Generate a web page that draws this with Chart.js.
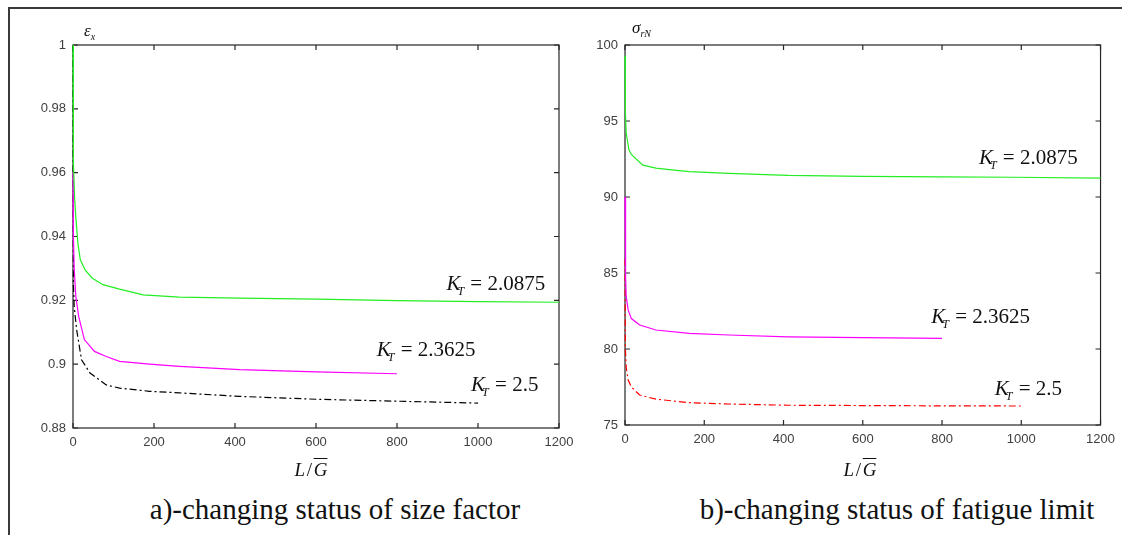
<!DOCTYPE html>
<html>
<head>
<meta charset="utf-8">
<script src="https://cdn.jsdelivr.net/npm/chart.js@4.4.1/dist/chart.umd.min.js"></script>
<style>
  body { margin: 0; background: #fff; width: 1122px; height: 535px; overflow: hidden; position: relative; }
  .frame { position: absolute; left: 8px; top: 7px; width: 1120px; height: 540px; border-top: 2px solid #3a3a3a; border-left: 2px solid #3a3a3a; }
  .box { position: absolute; top: 0; }
  .serif { position: absolute; font-family: "Liberation Serif", "Times New Roman", serif; color: #111; white-space: nowrap; line-height: 1; }
  .ylab { font-style: italic; font-size: 17px; }
  .ylab sub { font-size: 10px; }
  .xlab { font-size: 19px; transform: translateX(-50%); }
  .cap { font-size: 29px; transform: translateX(-50%); }
</style>
</head>
<body>
<div class="frame"></div>
<div class="box" style="left:0;width:600px;height:460px"><canvas id="chartA" width="600" height="460"></canvas></div>
<div class="box" style="left:560px;width:562px;height:460px"><canvas id="chartB" width="562" height="460"></canvas></div>

<div class="serif ylab" style="left:84px;top:22px">ε<sub>x</sub></div>
<div class="serif ylab" style="left:632px;top:19px">σ<sub>rN</sub></div>
<div class="serif xlab" style="left:311px;top:460px"><i>L</i>&#8202;/&#8202;<i style="text-decoration:overline">G</i></div>
<div class="serif xlab" style="left:860px;top:460px"><i>L</i>&#8202;/&#8202;<i style="text-decoration:overline">G</i></div>
<div class="serif cap" style="left:335px;top:495px">a)-changing status of size factor</div>
<div class="serif cap" style="left:897px;top:495px">b)-changing status of fatigue limit</div>

<script>
// tick labels
const xTicks = [0, 200, 400, 600, 800, 1000, 1200];
const yTicksA = [0.88, 0.9, 0.92, 0.94, 0.96, 0.98, 1];
const yTicksB = [75, 80, 85, 90, 95, 100];

// a) size factor, L/G on x
const sizeL_20875 = [0, 1, 4, 7, 12, 18, 30, 47, 74, 115, 173, 263, 412, 600, 800, 1000, 1200];
const size_20875  = [1.0, 0.963, 0.952, 0.946, 0.938, 0.9327, 0.9295, 0.927, 0.9249, 0.9235, 0.9217, 0.921, 0.9207, 0.9204, 0.9199, 0.9196, 0.9194];
const sizeL_23625 = [0, 1, 3, 7, 14, 28, 53, 82, 115, 189, 263, 412, 600, 800];
const size_23625  = [0.96, 0.94, 0.93, 0.9212, 0.915, 0.9077, 0.904, 0.9024, 0.9009, 0.9, 0.8993, 0.8983, 0.8976, 0.897];
const sizeL_25    = [0, 1, 3, 9, 21, 42, 82, 115, 189, 263, 412, 600, 800, 1000];
const size_25     = [1.0, 0.925, 0.918, 0.9108, 0.9014, 0.8972, 0.8935, 0.8925, 0.8915, 0.891, 0.8899, 0.889, 0.8884, 0.8878];

// b) fatigue limit
const limL_20875 = [0, 1, 3, 10, 16, 45, 78, 112, 162, 262, 412, 600, 800, 980, 1200];
const lim_20875  = [99.3, 95.6, 94.2, 93.1, 92.8, 92.1, 91.9, 91.8, 91.67, 91.56, 91.42, 91.36, 91.32, 91.3, 91.24];
const limL_23625 = [0, 1, 2, 3, 8, 16, 37, 78, 162, 262, 412, 600, 800];
const lim_23625  = [90, 85.5, 84.76, 83.44, 82.57, 82.0, 81.58, 81.25, 81.03, 80.92, 80.8, 80.75, 80.7];
const limL_25    = [0, 1, 3, 8, 16, 37, 78, 162, 262, 412, 600, 800, 1000];
const lim_25     = [85.9, 80, 78.8, 77.96, 77.5, 76.97, 76.7, 76.47, 76.38, 76.3, 76.28, 76.26, 76.25];

const serifFont = '"Liberation Serif", "Times New Roman", serif';

function pts(xs, ys) {
    return xs.map((x, i) => ({ x: x, y: ys[i] }));
}

function drawKT(ctx, x, y, val) {
    ctx.fillStyle = '#111';
    ctx.textBaseline = 'alphabetic';
    ctx.textAlign = 'left';
    ctx.font = 'italic 21px ' + serifFont;
    ctx.fillText('K', x, y);
    let w = ctx.measureText('K').width;
    ctx.font = 'italic 12px ' + serifFont;
    ctx.fillText('T', x + w - 3, y + 5);
    w += ctx.measureText('T').width - 2;
    ctx.font = '21px ' + serifFont;
    ctx.fillText(' = ' + val, x + w, y);
}

// box round the plot with inward ticks (under the curves), K_T labels on top
const boxPlugin = {
    id: 'boxPlugin',
    beforeDatasetsDraw(chart) {
        const ctx = chart.ctx;
        const a = chart.chartArea;
        const xs = chart.scales.x, ys = chart.scales.y;
        ctx.save();
        ctx.strokeStyle = '#262626';
        ctx.lineWidth = 1.2;
        ctx.strokeRect(a.left, a.top, a.right - a.left, a.bottom - a.top);
        ctx.beginPath();
        xs.ticks.forEach(t => {
            const px = xs.getPixelForValue(t.value);
            ctx.moveTo(px, a.bottom); ctx.lineTo(px, a.bottom - 5);
            ctx.moveTo(px, a.top); ctx.lineTo(px, a.top + 5);
        });
        ys.ticks.forEach(t => {
            const py = ys.getPixelForValue(t.value);
            ctx.moveTo(a.left, py); ctx.lineTo(a.left + 5, py);
            ctx.moveTo(a.right, py); ctx.lineTo(a.right - 5, py);
        });
        ctx.stroke();
        ctx.restore();
    },
    afterDatasetsDraw(chart, args, opts) {
        const ctx = chart.ctx;
        const xs = chart.scales.x, ys = chart.scales.y;
        ctx.save();
        (opts.labels || []).forEach(l => {
            drawKT(ctx, xs.getPixelForValue(l.x), ys.getPixelForValue(l.y), l.text);
        });
        ctx.restore();
    }
};

function makeChart(id, datasets, yTicks, yMin, yMax, yWidth, xHeight, pad, labels) {
    const tickFont = { family: 'Arial, "Liberation Sans", sans-serif', size: 13 };
    return new Chart(document.getElementById(id).getContext('2d'), {
        type: 'line',
        data: { datasets: datasets },
        options: {
            responsive: false,
            animation: false,
            layout: { padding: pad },
            plugins: {
                legend: { display: false },
                tooltip: { enabled: false },
                boxPlugin: { labels: labels }
            },
            datasets: { line: { clip: 2 } },
            elements: { point: { radius: 0 }, line: { tension: 0, borderWidth: 1.2 } },
            scales: {
                x: {
                    type: 'linear', min: 0, max: 1200,
                    grid: { display: false, drawTicks: false },
                    border: { display: false },
                    afterBuildTicks: s => { s.ticks = xTicks.map(v => ({ value: v })); },
                    afterFit: s => { s.height = xHeight; },
                    ticks: { color: '#404040', font: tickFont, padding: 7, maxRotation: 0,
                             callback: v => String(v) }
                },
                y: {
                    type: 'linear', min: yMin, max: yMax,
                    grid: { display: false, drawTicks: false },
                    border: { display: false },
                    afterBuildTicks: s => { s.ticks = yTicks.map(v => ({ value: v })); },
                    afterFit: s => { s.width = yWidth; },
                    ticks: { color: '#404040', font: tickFont, padding: 7,
                             callback: v => String(+Number(v).toFixed(2)) }
                }
            }
        },
        plugins: [boxPlugin]
    });
}

const dashDot = [7, 3, 2, 3];

makeChart('chartA', [
    { data: pts(sizeL_20875, size_20875), borderColor: '#22ee22' },
    { data: pts(sizeL_23625, size_23625), borderColor: '#ff00ff' },
    { data: pts(sizeL_25, size_25), borderColor: '#000000', borderDash: dashDot }
], yTicksA, 0.88, 1, 73, 32, { left: 0, top: 45, right: 41, bottom: 0 }, [
    { text: '2.0875', x: 922, y: 0.9233 },
    { text: '2.3625', x: 750, y: 0.9027 },
    { text: '2.5', x: 983, y: 0.8917 }
]);

makeChart('chartB', [
    { data: pts(limL_20875, lim_20875), borderColor: '#22ee22' },
    { data: pts(limL_23625, lim_23625), borderColor: '#ff00ff' },
    { data: pts(limL_25, lim_25), borderColor: '#ff0000', borderDash: dashDot }
], yTicksB, 75, 100, 65, 35, { left: 0, top: 45, right: 17, bottom: 0 }, [
    { text: '2.0875', x: 893, y: 92.2 },
    { text: '2.3625', x: 773, y: 81.68 },
    { text: '2.5', x: 933, y: 77.0 }
]);
</script>
</body>
</html>
